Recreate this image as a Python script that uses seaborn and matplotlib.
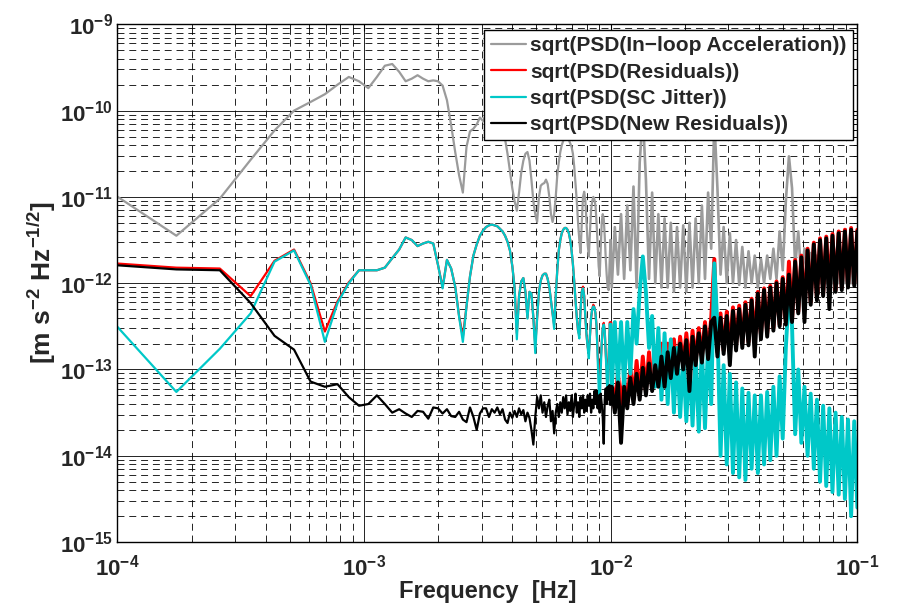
import numpy as np
import matplotlib
matplotlib.use('Agg')
import matplotlib.pyplot as plt
import matplotlib.ticker as mticker
import seaborn as sns

# frequency resolution of the spectra (read from the bin spacing at low frequency)
DF = 8.68e-5
bins = np.arange(1, 116)
f_lo = bins * DF
# dense part of the spectra above 10 mHz, sampled on a log grid
f_hi = np.geomspace(0.0101, 0.1, 80)

x_ticks = [1e-4, 1e-3, 1e-2, 1e-1]
y_ticks = [1e-15, 1e-14, 1e-13, 1e-12, 1e-11, 1e-10, 1e-9]

# values are log10 of the amplitude spectral density
gray_lo = [-10.88, -11.45, -11.02, -10.57, -10.23, -10.00, -9.90, -9.81, -9.70, -9.61,
           -9.66, -9.74, -9.61, -9.48, -9.46, -9.55, -9.66, -9.63, -9.59, -9.63,
           -9.66, -9.65, -9.66, -9.71, -9.88, -10.17, -10.48, -10.75, -10.95, -10.42,
           -10.24, -10.21, -10.16, -10.08, -10.12, -10.05, -9.98, -9.95, -9.96, -10.00,
           -10.08, -10.20, -10.33, -10.50, -10.70, -10.90, -11.05, -11.16, -10.95, -10.72,
           -10.58, -10.50, -10.48, -10.58, -10.80, -11.05, -11.20, -11.29, -11.00, -10.87,
           -10.85, -10.84, -10.80, -10.85, -11.00, -11.20, -11.29, -11.20, -11.00, -10.75,
           -10.60, -10.48, -10.40, -10.35, -10.32, -10.30, -10.31, -10.34, -10.38, -10.42,
           -10.50, -10.65, -10.85, -11.05, -11.30, -11.50, -11.65, -11.30, -11.00, -10.94,
           -11.05, -11.30, -11.55, -11.69, -11.40, -11.15, -11.05, -11.00, -11.03, -11.10,
           -11.30, -11.55, -11.80, -11.92, -11.60, -11.30, -11.20, -11.25, -11.45, -11.70,
           -11.90, -12.05, -12.08, -11.80, -11.50]
gray_hi = [-12.05, -11.35, -11.90, -11.20, -11.95, -11.10, -11.85, -10.88, -12.05, -10.60,
           -10.05, -10.80, -11.95, -10.95, -12.00, -11.20, -12.05, -11.25, -12.05, -11.30,
           -12.10, -11.35, -12.05, -11.33, -12.10, -11.30, -12.05, -11.25, -12.00, -11.10,
           -11.95, -10.95, -11.60, -10.10, -10.90, -11.90, -11.35, -12.00, -11.42, -12.00,
           -11.50, -12.02, -11.58, -12.05, -11.63, -12.00, -11.68, -12.05, -11.72, -12.00,
           -11.68, -11.95, -11.60, -11.95, -11.40, -11.85, -11.05, -10.53, -10.90, -11.80,
           -11.40, -11.95, -11.60, -12.00, -11.65, -12.00, -11.68, -12.00, -11.70, -12.00,
           -11.68, -12.00, -11.70, -12.00, -11.70, -12.00, -11.68, -12.00, -11.70, -12.00]

red_lo = [-11.76, -11.82, -11.83, -12.15, -11.74, -11.61, -12.00, -12.56, -12.21, -11.99,
          -11.85, -11.85, -11.85, -11.82, -11.71, -11.61, -11.47, -11.50, -11.57, -11.54,
          -11.52, -11.54, -11.79, -12.05, -11.73, -11.83, -12.04, -12.38, -12.62, -12.27,
          -11.92, -11.68, -11.55, -11.45, -11.39, -11.35, -11.33, -11.32, -11.33, -11.34,
          -11.37, -11.40, -11.45, -11.52, -11.62, -11.80, -12.05, -12.58, -12.15, -11.98,
          -11.94, -12.10, -12.40, -12.10, -12.12, -12.40, -12.72, -12.40, -12.10, -11.97,
          -11.91, -11.89, -11.89, -11.95, -12.05, -12.20, -12.35, -12.48, -12.15, -11.85,
          -11.62, -11.50, -11.42, -11.38, -11.36, -11.36, -11.38, -11.42, -11.50, -11.62,
          -11.78, -11.98, -12.20, -12.40, -12.55, -12.60, -12.30, -12.10, -12.04, -12.15,
          -12.40, -12.60, -12.74, -12.80, -12.60, -12.40, -12.30, -12.25, -12.28, -12.35,
          -12.50, -12.78, -13.05, -13.20, -12.90, -12.70, -12.52, -12.46, -12.55, -12.80,
          -13.00, -13.15, -12.85, -12.60, -12.46]
red_hi = [-13.12, -13.45, -13.05, -13.40, -13.10, -13.40, -12.98, -13.35, -12.90, -13.30,
          -12.85, -13.25, -12.80, -13.20, -12.75, -13.15, -12.70, -13.10, -12.70, -13.05,
          -12.65, -13.00, -12.62, -12.95, -12.58, -12.95, -12.55, -12.90, -12.52, -12.85,
          -12.45, -12.80, -12.40, -11.72, -12.80, -12.35, -12.78, -12.33, -12.75, -12.28,
          -12.72, -12.26, -12.70, -12.22, -12.68, -12.18, -12.65, -12.10, -12.60, -12.06,
          -12.58, -12.03, -12.52, -11.98, -12.48, -11.93, -12.45, -11.75, -12.42, -11.73,
          -12.33, -11.68, -12.30, -11.60, -12.22, -11.53, -12.18, -11.48, -12.12, -11.46,
          -12.10, -11.43, -12.08, -11.40, -12.05, -11.38, -12.03, -11.36, -12.00, -11.38]

cyan_lo = [-12.31, -13.26, -12.76, -12.35, -11.75, -11.62, -12.02, -12.68, -12.23, -12.00,
           -11.85, -11.85, -11.85, -11.82, -11.71, -11.61, -11.47, -11.50, -11.57, -11.54,
           -11.52, -11.54, -11.79, -12.06, -11.73, -11.83, -12.04, -12.39, -12.68, -12.27,
           -11.92, -11.68, -11.55, -11.45, -11.39, -11.35, -11.33, -11.32, -11.33, -11.34,
           -11.37, -11.40, -11.45, -11.52, -11.62, -11.80, -12.05, -12.65, -12.15, -11.98,
           -11.94, -12.10, -12.41, -12.10, -12.12, -12.40, -12.81, -12.40, -12.10, -11.97,
           -11.91, -11.89, -11.89, -11.95, -12.05, -12.20, -12.35, -12.53, -12.15, -11.85,
           -11.62, -11.50, -11.42, -11.38, -11.36, -11.36, -11.38, -11.42, -11.50, -11.62,
           -11.78, -11.98, -12.20, -12.40, -12.55, -12.64, -12.30, -12.10, -12.06, -12.15,
           -12.40, -12.60, -12.75, -12.87, -12.60, -12.40, -12.30, -12.27, -12.28, -12.35,
           -12.50, -12.85, -13.20, -13.45, -13.00, -12.70, -12.52, -12.48, -12.55, -12.80,
           -13.10, -13.30, -12.90, -12.60, -12.48]
cyan_hi = [-13.25, -12.45, -13.15, -12.45, -13.20, -12.45, -13.05, -12.30, -12.70, -12.10,
           -11.69, -12.10, -12.75, -12.38, -13.20, -12.52, -13.35, -12.58, -13.40, -12.65,
           -13.50, -12.75, -13.55, -12.85, -13.60, -12.88, -13.65, -12.80, -13.72, -12.75,
           -13.68, -12.68, -13.40, -11.77, -12.50, -14.00, -12.95, -14.10, -13.05, -14.20,
           -13.15, -14.25, -13.22, -14.28, -13.27, -14.15, -13.30, -14.20, -13.30, -14.10,
           -13.26, -14.05, -13.20, -14.00, -13.08, -13.80, -12.75, -12.10, -12.50, -13.75,
           -13.00, -13.85, -13.20, -14.00, -13.28, -14.15, -13.35, -14.30, -13.42, -14.35,
           -13.45, -14.42, -13.50, -14.45, -13.55, -14.50, -13.58, -14.70, -13.60, -14.60]

black_lo = [-11.78, -11.84, -11.85, -12.23, -12.61, -12.77, -13.14, -13.20, -13.17, -13.32,
            -13.42, -13.40, -13.30, -13.40, -13.50, -13.46, -13.51, -13.55, -13.48, -13.49,
            -13.57, -13.44, -13.45, -13.51, -13.46, -13.54, -13.55, -13.49, -13.58, -13.61,
            -13.44, -13.55, -13.70, -13.51, -13.45, -13.45, -13.55, -13.46, -13.50, -13.44,
            -13.52, -13.46, -13.58, -13.62, -13.50, -13.56, -13.48, -13.55, -13.45, -13.52,
            -13.47, -13.60, -13.50, -13.56, -13.70, -13.87, -13.55, -13.32, -13.45, -13.30,
            -13.50, -13.38, -13.55, -13.42, -13.35, -13.60, -13.48, -13.74, -13.50, -13.40,
            -13.55, -13.38, -13.50, -13.32, -13.45, -13.30, -13.52, -13.38, -13.48, -13.30,
            -13.55, -13.40, -13.28, -13.50, -13.38, -13.55, -13.32, -13.45, -13.30, -13.50,
            -13.35, -13.48, -13.30, -13.42, -13.28, -13.50, -13.35, -13.45, -13.25, -13.40,
            -13.24, -13.45, -13.30, -13.50, -13.28, -13.40, -13.55, -13.86, -13.35, -13.22,
            -13.40, -13.20, -13.35, -13.18, -13.40]
black_hi = [-13.20, -13.50, -13.15, -13.85, -13.20, -13.45, -13.10, -13.40, -13.05, -13.35,
            -12.98, -13.30, -12.93, -13.25, -12.95, -13.20, -12.85, -13.20, -12.80, -13.10,
            -12.75, -13.05, -12.70, -13.00, -12.66, -13.25, -12.62, -12.95, -12.58, -12.92,
            -12.50, -12.88, -12.45, -12.40, -12.85, -12.40, -12.82, -12.38, -12.95, -12.32,
            -12.78, -12.30, -12.75, -12.25, -12.72, -12.20, -12.85, -12.12, -12.65, -12.08,
            -12.62, -12.05, -12.55, -12.00, -12.50, -11.95, -12.48, -11.90, -12.45, -11.75,
            -12.35, -11.70, -12.45, -11.62, -12.25, -11.55, -12.20, -11.50, -12.15, -11.48,
            -12.30, -11.45, -12.10, -11.42, -12.08, -11.40, -12.05, -11.38, -12.03, -11.40]

labels = ['sqrt(PSD(In\u2212loop Acceleration))', 'sqrt(PSD(Residuals))',
          'sqrt(PSD(SC Jitter))', 'sqrt(PSD(New Residuals))']
colors = ['#9b9b9b', '#ff0000', '#00c8c8', '#000000']
hi_widths = [1.9, 2.8, 2.8, 2.8]
series = [(gray_lo, gray_hi), (red_lo, red_hi), (cyan_lo, cyan_hi), (black_lo, black_hi)]

sns.set_style('white')
plt.rcParams['font.family'] = ['Liberation Sans', 'DejaVu Sans']
plt.rcParams['font.weight'] = 'bold'
plt.rcParams['mathtext.fontset'] = 'custom'
plt.rcParams['mathtext.rm'] = 'Liberation Sans:bold'
plt.rcParams['mathtext.it'] = 'Liberation Sans:bold'
plt.rcParams['mathtext.bf'] = 'Liberation Sans:bold'
plt.rcParams['mathtext.default'] = 'rm'
plt.rcParams['lines.scale_dashes'] = False

fig = plt.figure(figsize=(9, 6.03), dpi=100)
ax = fig.add_axes([0.1303, 0.101, 0.8223, 0.8587])
ax.set_xscale('log')
ax.set_yscale('log')

for (lo, hi), c, lab, w in zip(series, colors, labels, hi_widths):
    # smooth low-frequency part
    sns.lineplot(x=f_lo, y=10 ** np.array(lo), ax=ax, color=c, lw=1.6, label=lab,
                 estimator=None, sort=False)
    # dense high-frequency part, joined to the last low-frequency bin
    fx = np.concatenate([f_lo[-1:], f_hi])
    fy = 10 ** np.array(lo[-1:] + hi)
    sns.lineplot(x=fx, y=fy, ax=ax, color=c, lw=w, estimator=None, sort=False,
                 legend=False)

ax.set_xlim(1e-4, 1e-1)
ax.set_ylim(1e-15, 1e-9)
ax.xaxis.set_major_locator(mticker.FixedLocator(x_ticks))
ax.yaxis.set_major_locator(mticker.FixedLocator(y_ticks))
ax.xaxis.set_minor_locator(mticker.LogLocator(base=10, subs=np.arange(2, 10), numticks=100))
ax.yaxis.set_minor_locator(mticker.LogLocator(base=10, subs=np.arange(2, 10), numticks=100))
fmt = mticker.FuncFormatter(lambda v, p: r'$10^{%d}$' % int(round(np.log10(v))))
ax.xaxis.set_major_formatter(fmt)
ax.yaxis.set_major_formatter(fmt)
ax.xaxis.set_minor_formatter(mticker.NullFormatter())
ax.yaxis.set_minor_formatter(mticker.NullFormatter())

ax.grid(True, which='major', color='k', lw=0.6, ls='-')
ax.grid(True, which='minor', color='k', lw=0.6, ls=(0, (5, 3.5)))
ax.set_axisbelow(True)
ax.tick_params(which='both', direction='in', top=True, right=True, color='k')
ax.tick_params(which='major', length=5, labelsize=16)
ax.tick_params(axis='x', which='major', pad=9)
ax.tick_params(axis='y', which='major', pad=3)
ax.tick_params(which='minor', length=3)
for s in ax.spines.values():
    s.set_color('k')
    s.set_linewidth(1.0)

ax.set_xlabel('Frequency  [Hz]', fontsize=17, fontweight='bold', labelpad=0)
ax.set_ylabel(r'[m s$^{-2}$ Hz$^{-1/2}$]', fontsize=19, fontweight='bold', labelpad=1)

leg = ax.legend(loc='upper right', bbox_to_anchor=(0.994, 0.989), borderaxespad=0,
                fontsize=15, frameon=True, fancybox=False, edgecolor='k', framealpha=1,
                handlelength=1.7, handletextpad=0.2, labelspacing=0.35, borderpad=0.3)
leg.get_frame().set_linewidth(1.0)

fig.savefig('out.png', dpi=100)
